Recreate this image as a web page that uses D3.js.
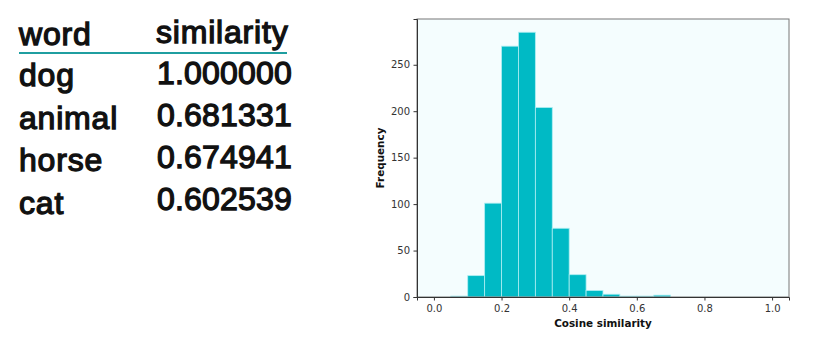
<!DOCTYPE html>
<html>
<head>
<meta charset="utf-8">
<script src="https://cdn.jsdelivr.net/npm/d3@7"></script>
<style>
    body { margin: 0; background: #fff; }
    .word {
        font-family: "Liberation Sans", Arial, sans-serif;
        font-size: 32px;
        letter-spacing: 0.8px;
        fill: #111;
        stroke: #111;
        stroke-width: 1.3px;
    }
    .word.num { letter-spacing: 0.2px; }
    .tick text { font-family: "DejaVu Sans", sans-serif; font-size: 10px; fill: #333; }
    .axis-title { font-family: "DejaVu Sans", sans-serif; font-size: 10.4px; font-weight: bold; fill: #111; }
</style>
</head>
<body>
<div class="chart"></div>
<script>
// Table values
const words = ["dog", "animal", "horse", "cat"];
const similarities = ["1.000000", "0.681331", "0.674941", "0.602539"];

// Histogram: bin edges every 0.05 from 0 to 1
const binStarts = [0.00, 0.05, 0.10, 0.15, 0.20, 0.25, 0.30, 0.35, 0.40, 0.45,
                   0.50, 0.55, 0.60, 0.65, 0.70, 0.75, 0.80, 0.85, 0.90, 0.95];
const binWidth = 0.05;
const counts = [0, 1, 23, 101, 270, 285, 204, 74, 24, 7, 3, 1, 1, 2, 0, 0, 0, 0, 0, 0];
const xTicks = [0.0, 0.2, 0.4, 0.6, 0.8, 1.0];
const yTicks = [0, 50, 100, 150, 200, 250];

function draw() {
    const width = 815;
    const height = 351;

    const svg = d3.select(".chart")
        .append("svg")
        .attr("width", width)
        .attr("height", height);

    // --- word / similarity table ---
    const table = svg.append("g");
    table.append("text").attr("class", "word")
        .attr("x", 19).attr("y", 45).text("word");
    table.append("text").attr("class", "word")
        .attr("x", 156).attr("y", 43).text("similarity");
    table.append("line")
        .attr("x1", 19).attr("x2", 287)
        .attr("y1", 53).attr("y2", 53)
        .attr("stroke", "#1f9ea0")
        .attr("stroke-width", 2);

    words.forEach((w, i) => {
        table.append("text").attr("class", "word")
            .attr("x", 19).attr("y", 86 + i * 42.7).text(w);
        table.append("text").attr("class", "word num")
            .attr("x", 157).attr("y", 83.5 + i * 42.3).text(similarities[i]);
    });

    // --- histogram ---
    const left = 417, right = 789, top = 19, bottom = 297;

    const x = d3.scaleLinear()
        .domain([-0.05, 1.05])
        .range([left, right]);
    const y = d3.scaleLinear()
        .domain([0, d3.max(counts) * 1.05])
        .range([bottom, top]);

    svg.append("rect")
        .attr("x", left).attr("y", top)
        .attr("width", right - left).attr("height", bottom - top)
        .attr("fill", "#f4fdfe");

    svg.append("g")
        .selectAll("rect")
        .data(binStarts.map((s, i) => ({ start: s, count: counts[i] })).filter(d => d.count > 0))
        .enter()
        .append("rect")
        .attr("x", d => x(d.start))
        .attr("y", d => y(d.count))
        .attr("width", d => x(d.start + binWidth) - x(d.start))
        .attr("height", d => y(0) - y(d.count))
        .attr("fill", "#00bac5")
        .attr("stroke", "#aeeef2")
        .attr("stroke-width", 0.8);

    // frame
    svg.append("rect")
        .attr("x", left).attr("y", top)
        .attr("width", right - left).attr("height", bottom - top)
        .attr("fill", "none")
        .attr("stroke", "#777")
        .attr("stroke-width", 1);

    const xAxis = svg.append("g")
        .attr("transform", `translate(0,${bottom})`)
        .call(d3.axisBottom(x).tickValues(xTicks).tickFormat(d3.format(".1f")).tickSizeOuter(0).tickSize(3.5).tickPadding(4));
    const yAxis = svg.append("g")
        .attr("transform", `translate(${left},0)`)
        .call(d3.axisLeft(y).tickValues(yTicks).tickSizeOuter(0).tickSize(3.5).tickPadding(3.5));

    [xAxis, yAxis].forEach(a => {
        a.select(".domain").attr("stroke", "#333");
        a.selectAll(".tick line").attr("stroke", "#333");
    });

    svg.append("text")
        .attr("class", "axis-title")
        .attr("x", (left + right) / 2)
        .attr("y", 327)
        .attr("text-anchor", "middle")
        .text("Cosine similarity");

    svg.append("text")
        .attr("class", "axis-title")
        .attr("transform", `translate(384,${(top + bottom) / 2}) rotate(-90)`)
        .attr("text-anchor", "middle")
        .text("Frequency");
}

draw();
</script>
</body>
</html>
